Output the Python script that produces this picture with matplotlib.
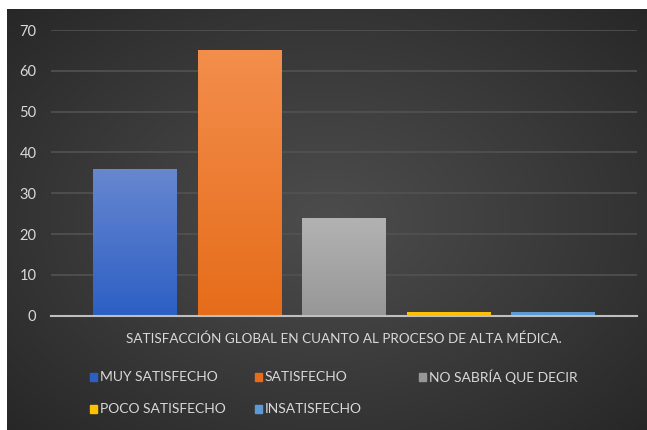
import numpy as np
import matplotlib.pyplot as plt
from matplotlib.patches import Rectangle

# data
series = ['MUY SATISFECHO', 'SATISFECHO', 'NO SABRÍA QUE DECIR',
          'POCO SATISFECHO', 'INSATISFECHO']
values = [36, 65, 24, 1, 1]
category = 'SATISFACCIÓN GLOBAL EN CUANTO AL PROCESO DE ALTA MÉDICA.'
yticks = [0, 10, 20, 30, 40, 50, 60, 70]

# colours (top of bar, bottom of bar)
top_cols = ['#6787d0', '#f38e4c', '#b2b2b2', '#ffc000', '#5b9bd5']
bot_cols = ['#2c5fc4', '#e66c1a', '#979797', '#ffc000', '#5b9bd5']
txt_col = '#d9d9d9'

plt.rcParams['font.family'] = ['Lato', 'DejaVu Sans']

W, H = 647, 430
fig = plt.figure(figsize=(W / 100, H / 100), dpi=100, facecolor='white')

# dark background with soft radial gradient
bg = fig.add_axes([7 / W, 0, (W - 7) / W, (H - 9) / H])
gx, gy = np.meshgrid(np.linspace(-1, 1, 400), np.linspace(-1, 1, 300))
r = np.sqrt((gx * 0.95) ** 2 + (gy * 0.9) ** 2) / np.sqrt(2)
lev = 76 - 40 * np.clip(r, 0, 1) ** 1.1
img = np.dstack([lev, lev, lev]) / 255.0
bg.imshow(img, aspect='auto', extent=[0, 1, 0, 1], interpolation='bicubic')
bg.set_axis_off()

# main axes
ax = fig.add_axes([51 / W, 1 - 315.7 / H, (637 - 51) / W, (315.7 - 30) / H])
ax.set_facecolor('none')

x = np.arange(len(values))
bars = ax.bar(x, values, width=0.8, color=bot_cols, zorder=3)

# vertical gradient on each bar
for b, tc, bc in zip(bars, top_cols, bot_cols):
    t = np.array(plt.matplotlib.colors.to_rgb(tc))
    c = np.array(plt.matplotlib.colors.to_rgb(bc))
    k = np.linspace(0, 1, 100)[:, None]
    grad = (t * (1 - k) + c * k)[:, None, :]
    im = ax.imshow(grad, aspect='auto', zorder=4,
                   extent=[b.get_x(), b.get_x() + b.get_width(), 0, b.get_height()])
    im.set_clip_path(b)

ax.set_xlim(-0.8, 4.8)
ax.set_ylim(0, 70)
ax.set_yticks(yticks)
ax.set_xticks([])
ax.grid(axis='y', color='#525252', linewidth=1.2, zorder=0)
for s in ['top', 'right', 'left']:
    ax.spines[s].set_visible(False)
ax.spines['bottom'].set_color('#bfbfbf')
ax.spines['bottom'].set_linewidth(1.5)
ax.spines['bottom'].set_zorder(5)
ax.tick_params(axis='y', length=0, pad=10.5, labelsize=10.5, labelcolor=txt_col)

# category label
fig.text(344 / W, 1 - 339 / H, category, ha='center', va='center',
         color=txt_col, fontsize=9.7)

# legend, laid out like the Office chart (row by row)
pos = [(90, 377), (255, 377), (419, 377), (90, 409), (255, 409)]
for (px, py), name, col in zip(pos, series, bot_cols):
    fig.patches.append(Rectangle((px / W, 1 - (py + 4) / H), 7 / W, 8 / H,
                                 transform=fig.transFigure, color=col,
                                 figure=fig))
    fig.text((px + 10) / W, 1 - py / H, name, ha='left', va='center',
             color=txt_col, fontsize=10)

fig.savefig('out.png', dpi=100, facecolor='white')
